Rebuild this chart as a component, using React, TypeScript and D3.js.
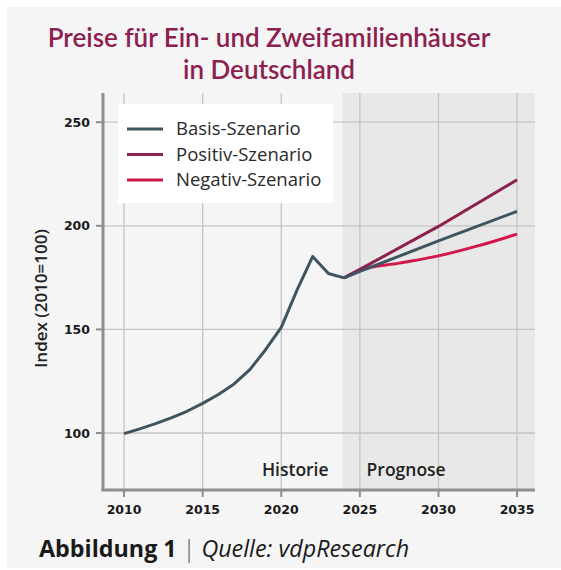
import { scaleLinear, line, curveLinear, curveMonotoneX } from 'd3'

const W = 561
const H = 570

const historyYears = [2010, 2011, 2012, 2013, 2014, 2015, 2016, 2017, 2018, 2019, 2020, 2021, 2022, 2023, 2024]
const historyValues = [99.7, 102, 104.5, 107.3, 110.5, 114.3, 118.6, 123.7, 130.6, 140.2, 151, 169, 185.2, 177, 174.9]

const basisYears = [2024, 2025, 2030, 2035]
const basisValues = [174.9, 178, 192.7, 207]
const positivYears = [2024, 2025, 2030, 2035]
const positivValues = [174.9, 179, 199.7, 222.2]
const negativYears = [2024, 2025, 2027.5, 2030, 2032.5, 2035]
const negativValues = [174.9, 178.6, 182, 185.5, 190.3, 196]

const xTicks = [2010, 2015, 2020, 2025, 2030, 2035]
const yTicks = [100, 150, 200, 250]
const forecastStart = 2023.9

const legendItems = [
  { label: 'Basis-Szenario', color: '#3e5560' },
  { label: 'Positiv-Szenario', color: '#8c2150' },
  { label: 'Negativ-Szenario', color: '#d2184b' },
]

const TITLE_FONT = 'Lato, sans-serif'
const FONT = '"Open Sans", sans-serif'
const NUM_FONT = '"DejaVu Sans", sans-serif'

interface Pt { x: number; y: number }
const zip = (xs: number[], ys: number[]): Pt[] => xs.map((x, i) => ({ x, y: ys[i]! }))

export default function App() {
  const left = 103
  const right = 535
  const top = 93
  const bottom = 490

  const x = scaleLinear().domain([2008.66, 2036.14]).range([left, right])
  const y = scaleLinear().domain([72.5, 264.1]).range([bottom, top])

  const straight = line<Pt>().x((d) => x(d.x)).y((d) => y(d.y)).curve(curveLinear)
  const smooth = line<Pt>().x((d) => x(d.x)).y((d) => y(d.y)).curve(curveMonotoneX)

  const fx = x(forecastStart)

  return (
    <svg
      width={W}
      height={H}
      style={{ position: 'absolute', left: 0, top: 0, fontFamily: FONT }}
    >
      <rect x={0} y={0} width={W} height={H} fill="#fff" />
      <rect x={7} y={7} width={W - 7} height={H - 9} fill="#f5f5f5" />

      {/* Title */}
      <text x={269} y={47} textAnchor="middle" fontFamily={TITLE_FONT} fontSize={26} fontWeight={600} fill="#8c2150">
        Preise für Ein- und Zweifamilienhäuser
      </text>
      <text x={269} y={79} textAnchor="middle" fontFamily={TITLE_FONT} fontSize={26} fontWeight={600} fill="#8c2150">
        in Deutschland
      </text>

      {/* Forecast area */}
      <rect x={fx} y={top} width={right - fx} height={bottom - top} fill="#e8e8e8" />

      {/* Grid */}
      {xTicks.map((t) => (
        <line key={'gx' + t} x1={x(t)} x2={x(t)} y1={top} y2={bottom} stroke="#c4c4c4" strokeWidth={1.3} />
      ))}
      {yTicks.map((t) => (
        <line key={'gy' + t} x1={left} x2={right} y1={y(t)} y2={y(t)} stroke="#c4c4c4" strokeWidth={1.3} />
      ))}

      {/* Period labels */}
      <text x={fx - 14} y={476} textAnchor="end" fontSize={17.5} fontWeight={600} fill="#222">Historie</text>
      <text x={fx + 24} y={476} fontSize={17.5} fontWeight={600} fill="#222">Prognose</text>

      {/* Lines */}
      <path d={smooth(zip(negativYears, negativValues)) ?? ''} fill="none" stroke={legendItems[2]!.color} strokeWidth={3} />
      <path d={straight(zip(positivYears, positivValues)) ?? ''} fill="none" stroke={legendItems[1]!.color} strokeWidth={3} />
      <path d={straight(zip(basisYears, basisValues)) ?? ''} fill="none" stroke={legendItems[0]!.color} strokeWidth={3} />
      <path d={straight(zip(historyYears, historyValues)) ?? ''} fill="none" stroke={legendItems[0]!.color} strokeWidth={3} strokeLinejoin="round" />

      {/* Axes */}
      <line x1={left} x2={left} y1={top} y2={bottom + 1} stroke="#8e8e8e" strokeWidth={3} />
      <line x1={left - 1.5} x2={right} y1={bottom} y2={bottom} stroke="#8e8e8e" strokeWidth={3} />
      {yTicks.map((t) => (
        <g key={'ty' + t}>
          <line x1={left - 7} x2={left} y1={y(t)} y2={y(t)} stroke="#8e8e8e" strokeWidth={2} />
          <text x={90} y={y(t)} dy="0.36em" textAnchor="end" fontFamily={NUM_FONT} fontSize={12.5} fontWeight={700} fill="#1a1a1a">{t}</text>
        </g>
      ))}
      {xTicks.map((t) => (
        <g key={'tx' + t}>
          <line x1={x(t)} x2={x(t)} y1={bottom} y2={bottom + 7} stroke="#8e8e8e" strokeWidth={2} />
          <text x={x(t)} y={514} textAnchor="middle" fontFamily={NUM_FONT} fontSize={12.5} fontWeight={700} fill="#1a1a1a">{t}</text>
        </g>
      ))}
      <text
        transform={`translate(47, ${(top + bottom) / 2 + 7}) rotate(-90)`}
        textAnchor="middle"
        fontSize={17}
        fontWeight={600}
        fill="#222"
      >
        Index (2010=100)
      </text>

      {/* Legend */}
      <rect x={left + 15} y={top + 11} width={215} height={99} fill="#fff" />
      {legendItems.map((d, i) => (
        <g key={d.label} transform={`translate(${left + 24}, ${top + 36 + i * 25.5})`}>
          <line x1={0} x2={36} y1={0} y2={0} stroke={d.color} strokeWidth={3} />
          <text x={49} y={0} dy="0.35em" fontSize={18.5} fill="#2a2a2a">{d.label}</text>
        </g>
      ))}

      {/* Caption */}
      <text x={39} y={557} fontSize={23.3} fill="#1a1a1a">
        <tspan fontWeight={700}>Abbildung 1</tspan>
        <tspan fill="#555" fontWeight={300}> | </tspan>
        <tspan fontStyle="italic" fontWeight={400}>Quelle: vdpResearch</tspan>
      </text>
    </svg>
  )
}
